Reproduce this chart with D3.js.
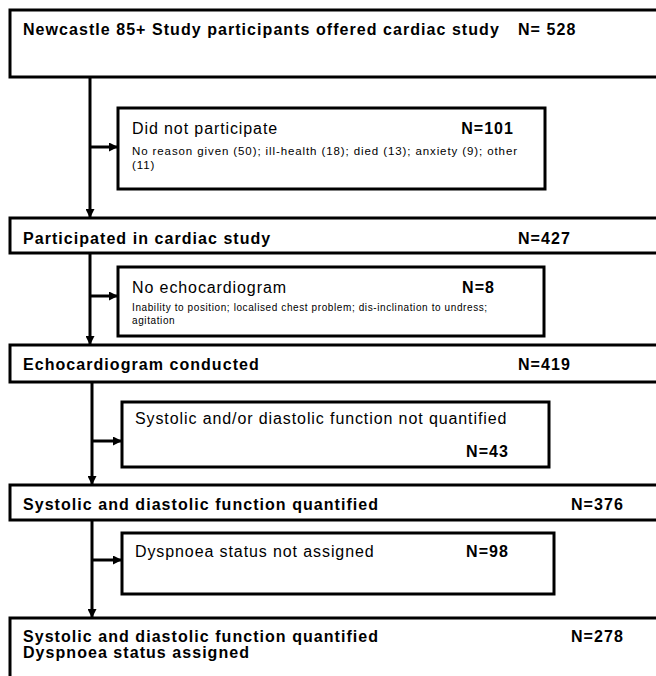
<!DOCTYPE html>
<html><head><meta charset="utf-8">
<script src="https://cdn.jsdelivr.net/npm/d3@7"></script>
<style>body{margin:0;background:#fff}svg{display:block;font-family:"Liberation Sans",Arial,Helvetica,sans-serif}</style>
</head><body><div id="chart"></div>
<script>
// ---- data ----
const stageLabels = [
  ["Newcastle 85+ Study participants offered cardiac study"],
  ["Participated in cardiac study"],
  ["Echocardiogram conducted"],
  ["Systolic and diastolic function quantified"],
  ["Systolic and diastolic function quantified", "Dyspnoea status assigned"]
];
const stageN = ["N= 528", "N=427", "N=419", "N=376", "N=278"];
const exclusionLabels = [
  "Did not participate",
  "No echocardiogram",
  "Systolic and/or diastolic function not quantified",
  "Dyspnoea status not assigned"
];
const exclusionN = ["N=101", "N=8", "N=43", "N=98"];
const exclusionReasons = [
  ["No reason given (50); ill-health (18); died (13); anxiety (9); other", "(11)"],
  ["Inability to position; localised chest problem; dis-inclination to undress;", "agitation"],
  [],
  []
];

// ---- layout (geometry only) ----
const W = 656, H = 676;
const stageBox = [ {y0:10,y1:77,tx:23,ty:35,nx:518},
                   {y0:218,y1:253,tx:23,ty:244,nx:518},
                   {y0:345,y1:382,tx:23,ty:370,nx:518},
                   {y0:485,y1:520,tx:23,ty:510,nx:571},
                   {y0:618,y1:700,tx:23,ty:642,nx:571} ];
const exBox = [ {x0:118,x1:545,y0:108,y1:189,ay:147,tx:132,ty:134,nx:514,ny:134,ry:155,rs:11.5,rl:0.9,rh:14},
                {x0:118,x1:544,y0:267,y1:336,ay:296,tx:132,ty:293,nx:495,ny:293,ry:311,rs:10,rl:0.6,rh:13},
                {x0:122,x1:549,y0:402,y1:467,ay:441,tx:135,ty:424,nx:509,ny:457},
                {x0:122,x1:554,y0:533,y1:594,ay:560,tx:135,ty:557,nx:509,ny:557} ];
const spineX = [90, 90, 92, 92];
const boldSize = 16, boldSpacing = 1.05;

const svg = d3.select("#chart").append("svg").attr("width", W).attr("height", H);
const defs = svg.append("defs");
defs.append("marker").attr("id","arr").attr("viewBox","0 0 10 10")
  .attr("refX",10).attr("refY",5).attr("markerWidth",10).attr("markerHeight",9)
  .attr("markerUnits","userSpaceOnUse").attr("orient","auto")
  .append("path").attr("d","M0,0L10,5L0,10Z").attr("fill","#000");

const sw = 3;
// stage boxes
const sg = svg.selectAll("g.stage").data(stageLabels).join("g").attr("class","stage");
sg.append("rect")
  .attr("x",10).attr("y",(d,i)=>stageBox[i].y0)
  .attr("width", W+20-10).attr("height",(d,i)=>stageBox[i].y1-stageBox[i].y0)
  .attr("fill","#fff").attr("stroke","#000").attr("stroke-width",sw);
sg.each(function(lines,i){
  const g = d3.select(this), b = stageBox[i];
  lines.forEach((t,j)=>{
    g.append("text").attr("x",b.tx).attr("y",b.ty+j*15.5)
      .attr("font-size",boldSize).attr("letter-spacing",boldSpacing).attr("font-weight","bold").attr("fill","#000").text(t);
  });
  g.append("text").attr("x",b.nx).attr("y",b.ty)
    .attr("font-size",boldSize).attr("letter-spacing",boldSpacing).attr("font-weight","bold").attr("fill","#000").text(stageN[i]);
});

// spines (vertical arrows)
svg.selectAll("line.spine").data(spineX).join("line").attr("class","spine")
  .attr("x1",d=>d).attr("x2",d=>d)
  .attr("y1",(d,i)=>stageBox[i].y1).attr("y2",(d,i)=>stageBox[i+1].y0)
  .attr("stroke","#000").attr("stroke-width",sw).attr("marker-end","url(#arr)");

// side arrows
svg.selectAll("line.side").data(exBox).join("line").attr("class","side")
  .attr("x1",(d,i)=>spineX[i]).attr("x2",d=>d.x0)
  .attr("y1",d=>d.ay).attr("y2",d=>d.ay)
  .attr("stroke","#000").attr("stroke-width",sw).attr("marker-end","url(#arr)");

// exclusion boxes
const eg = svg.selectAll("g.ex").data(exclusionLabels).join("g").attr("class","ex");
eg.append("rect")
  .attr("x",(d,i)=>exBox[i].x0).attr("y",(d,i)=>exBox[i].y0)
  .attr("width",(d,i)=>exBox[i].x1-exBox[i].x0).attr("height",(d,i)=>exBox[i].y1-exBox[i].y0)
  .attr("fill","#fff").attr("stroke","#000").attr("stroke-width",sw);
eg.append("text").attr("x",(d,i)=>exBox[i].tx).attr("y",(d,i)=>exBox[i].ty)
  .attr("font-size",16).attr("letter-spacing",0.9).attr("fill","#000").text(d=>d);
eg.append("text").attr("x",(d,i)=>exBox[i].nx).attr("y",(d,i)=>exBox[i].ny)
  .attr("text-anchor","end").attr("font-size",boldSize).attr("letter-spacing",boldSpacing).attr("font-weight","bold").attr("fill","#000")
  .text((d,i)=>exclusionN[i]);
eg.each(function(d,i){
  const b = exBox[i];
  exclusionReasons[i].forEach((t,j)=>{
    d3.select(this).append("text").attr("x",b.tx).attr("y",b.ry+j*b.rh)
      .attr("font-size",b.rs).attr("letter-spacing",b.rl).attr("fill","#000").text(t);
  });
});
</script></body></html>
